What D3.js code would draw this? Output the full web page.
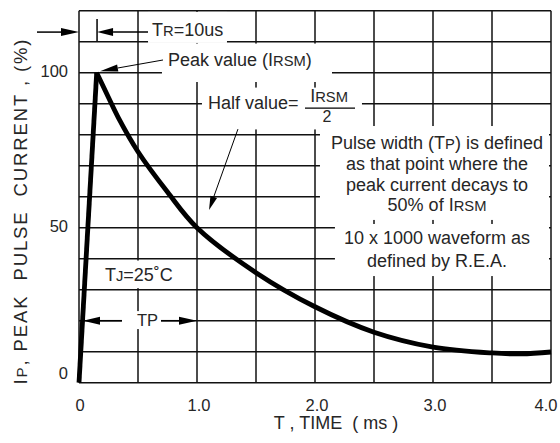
<!DOCTYPE html>
<html>
<head>
<meta charset="utf-8">
<script src="https://cdn.jsdelivr.net/npm/d3@7"></script>
<style>
  body { margin: 0; background: #fff; }
  svg { display: block; font-family: "Liberation Sans", Arial, sans-serif; }
</style>
</head>
<body>
<svg id="chart" width="560" height="443"></svg>
<script>
// pulse waveform (time in ms, current in % of IRSM)
const timeTicks = [0, 1, 2, 3, 4];
const pctTicks = [0, 50, 100];
const riseTime = [0, 0.15];
const risePct = [0, 100];
const decayTime = [0.15, 0.25, 0.333, 0.5, 0.75, 1.0, 1.5, 2.0, 2.5, 3.0, 3.5, 3.75, 4.0];
const decayPct = [100, 92, 85.5, 74.5, 61.5, 50, 35.5, 24.5, 16.3, 11.5, 9.6, 9.3, 9.9];
const noteLines = [
  [['Pulse width (T'], ['P', 1], [') is defined']],
  [['as that point where the']],
  [['peak current decays to']],
  [['50% of I'], ['RSM', 1]],
];
const reaLines = [[['10 x 1000 waveform as']], [['defined by R.E.A.']]];

const svg = d3.select('#chart');
const x = d3.scaleLinear().domain([0, 4]).range([79, 551]);
const y = d3.scaleLinear().domain([0, 120]).range([382.7, 10.7]);
const ink = '#262626';

// text with small-caps style subscripts (TR, IRSM ...)
function richText(g, px, py, parts, size, anchor) {
  const t = g.append('text')
    .attr('x', px)
    .attr('y', py)
    .attr('font-size', size)
    .attr('fill', ink)
    .attr('text-anchor', anchor || 'start');
  parts.forEach(([s, small]) => {
    t.append('tspan').attr('font-size', small ? size * 0.82 : size).text(s);
  });
  return t;
}

function arrow(g, t0, v0, t1, v1, len, half, width) {
  const x0 = x(t0), y0 = y(v0), x1 = x(t1), y1 = y(v1);
  const a = Math.atan2(y1 - y0, x1 - x0);
  const bx = x1 - len * Math.cos(a), by = y1 - len * Math.sin(a);
  g.append('line')
    .attr('x1', x0).attr('y1', y0).attr('x2', bx).attr('y2', by)
    .attr('stroke', '#000').attr('stroke-width', width);
  const nx = -Math.sin(a) * half, ny = Math.cos(a) * half;
  g.append('path')
    .attr('d', `M${x1},${y1}L${bx + nx},${by + ny}L${bx - nx},${by - ny}Z`)
    .attr('fill', '#000');
}

// grid
const grid = svg.append('g').attr('stroke', '#111').attr('stroke-width', 1.5);
grid.selectAll('line.v')
  .data(d3.range(0, 4.001, 0.5))
  .join('line')
  .attr('class', 'v')
  .attr('x1', (d) => x(d)).attr('x2', (d) => x(d))
  .attr('y1', y(0)).attr('y2', y(120));
grid.selectAll('line.h')
  .data(d3.range(0, 120.001, 10))
  .join('line')
  .attr('class', 'h')
  .attr('x1', x(0)).attr('x2', x(4))
  .attr('y1', (d) => y(d)).attr('y2', (d) => y(d));

// white label backgrounds that break the grid
const masks = [
  [0.585, 1.254, 109.6, 119.6], // TR
  [0.703, 2.144, 97.0, 109.4], // peak value
  [1.042, 2.398, 81.7, 95.2], // half value
  [2.042, 3.983, 52.5, 82.8], // pulse width note
  [2.169, 3.983, 34.4, 51.2], // REA note
  [0.178, 0.89, 30.5, 39.4], // TJ
  [0.364, 0.695, 17.3, 23.1], // TP
];
svg.append('g').selectAll('rect')
  .data(masks)
  .join('rect')
  .attr('x', (d) => x(d[0]))
  .attr('width', (d) => x(d[1]) - x(d[0]))
  .attr('y', (d) => y(d[3]))
  .attr('height', (d) => y(d[2]) - y(d[3]))
  .attr('fill', '#fff');

// waveform
const curve = svg.append('g').attr('fill', 'none').attr('stroke', '#000')
  .attr('stroke-width', 4.8).attr('stroke-linejoin', 'round');
curve.append('path')
  .attr('d', d3.line().x((d, i) => x(riseTime[i])).y((d) => y(d))(risePct));
curve.append('path')
  .attr('d', d3.line().curve(d3.curveCatmullRom.alpha(0.5))
    .x((d, i) => x(decayTime[i])).y((d) => y(d))(decayPct));

// annotations
const ann = svg.append('g');
arrow(ann, -0.356, 113.1, 0, 113.1, 18, 4, 1.5);
arrow(ann, 0.585, 113.1, 0.153, 113.1, 16, 4, 1.5);
ann.append('line')
  .attr('x1', x(0.153)).attr('x2', x(0.153))
  .attr('y1', y(117.3)).attr('y2', y(110.2))
  .attr('stroke', '#000').attr('stroke-width', 1.5);
richText(ann, x(0.619), y(111.8), [['T'], ['R', 1], ['=10us']], 18);

arrow(ann, 0.712, 104.1, 0.178, 100.5, 18, 3.5, 1);
richText(ann, x(0.754), y(102.2), [['Peak value (I'], ['RSM', 1], [')']], 18);

richText(ann, x(1.093), y(88.3), [['Half value=']], 18);
richText(ann, x(2.119), y(90.5), [['I'], ['RSM', 1]], 18, 'middle');
ann.append('line')
  .attr('x1', x(1.915)).attr('x2', x(2.339))
  .attr('y1', y(88.6)).attr('y2', y(88.6))
  .attr('stroke', '#000').attr('stroke-width', 1.3);
richText(ann, x(2.102), y(84.1), [['2']], 16, 'middle');
arrow(ann, 1.347, 81.8, 1.102, 55.7, 14, 3.5, 1);

[75.4, 68.6, 61.8, 55.4].forEach((v, i) => richText(ann, x(3.034), y(v), noteLines[i], 18, 'middle'));
[44.7, 37.3].forEach((v, i) => richText(ann, x(3.034), y(v), reaLines[i], 18, 'middle'));

richText(ann, x(0.22), y(32.8), [['T'], ['J', 1], ['=25˚C']], 18);

arrow(ann, 0.364, 20, 0.034, 20, 17, 4, 1.5);
arrow(ann, 0.695, 20, 1.0, 20, 18, 4, 1.5);
richText(ann, x(0.58), y(18.3), [['T'], ['P']], 16.5, 'middle');

// axes labels
const axes = svg.append('g').attr('fill', ink).attr('font-size', 16.5);
axes.selectAll('text.yt')
  .data(pctTicks)
  .join('text')
  .attr('class', 'yt')
  .attr('x', 68)
  .attr('y', (d) => (d === 0 ? y(0) - 4 : y(d) + 4))
  .attr('text-anchor', 'end')
  .text((d) => d);
axes.selectAll('text.xt')
  .data(timeTicks)
  .join('text')
  .attr('class', 'xt')
  .attr('x', (d) => Math.min(x(d) + (d ? 2 : 1), 546))
  .attr('y', 411)
  .attr('text-anchor', 'middle')
  .text((d) => (d === 0 ? '0' : d3.format('.1f')(d)));

axes.append('text')
  .attr('x', 336)
  .attr('y', 429)
  .attr('font-size', 18)
  .attr('text-anchor', 'middle')
  .style('white-space', 'pre')
  .text('T , TIME  ( ms )');

richText(axes, 0, 0, [['I'], ['P', 1], [', PEAK  PULSE  CURRENT , (%)']], 18.5, 'middle')
  .attr('transform', 'translate(27,212) rotate(-90)')
  .style('white-space', 'pre')
  .attr('textLength', 345)
  .attr('lengthAdjust', 'spacing');
</script>
</body>
</html>
